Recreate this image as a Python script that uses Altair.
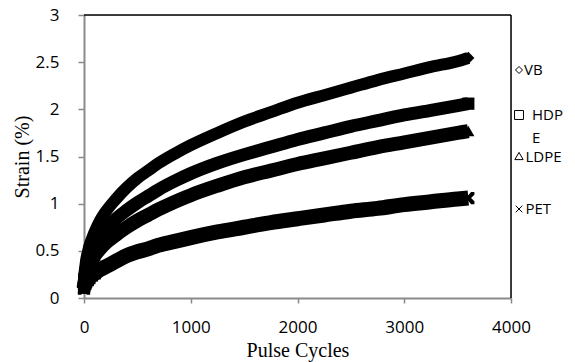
import altair as alt
import pandas as pd

# ---- data ----
cycles = [0, 5, 10, 20, 35, 50, 75, 100, 150, 200, 300, 400, 500, 600, 700, 850,
          1000, 1250, 1500, 1750, 2000, 2250, 2500, 2750, 3000, 3250, 3500, 3600]
vb = [0.12, 0.25, 0.31, 0.40, 0.48, 0.55, 0.63, 0.70, 0.82, 0.91, 1.05, 1.17, 1.27, 1.35,
      1.43, 1.53, 1.62, 1.75, 1.87, 1.97, 2.07, 2.15, 2.23, 2.31, 2.38, 2.45, 2.51, 2.545]
hdpe = [0.11, 0.20, 0.25, 0.32, 0.39, 0.44, 0.51, 0.56, 0.65, 0.72, 0.84, 0.93, 1.01, 1.08,
        1.15, 1.24, 1.32, 1.43, 1.52, 1.60, 1.68, 1.75, 1.82, 1.88, 1.94, 1.99, 2.04, 2.06]
ldpe = [0.10, 0.16, 0.20, 0.26, 0.31, 0.35, 0.40, 0.45, 0.52, 0.58, 0.67, 0.75, 0.82, 0.88,
        0.94, 1.02, 1.09, 1.19, 1.28, 1.35, 1.42, 1.48, 1.54, 1.60, 1.65, 1.70, 1.75, 1.77]
pet = [0.10, 0.13, 0.15, 0.17, 0.19, 0.21, 0.24, 0.26, 0.30, 0.33, 0.39, 0.45, 0.49, 0.52,
       0.56, 0.60, 0.64, 0.70, 0.75, 0.80, 0.84, 0.88, 0.92, 0.95, 0.99, 1.02, 1.05, 1.06]
series_names = ["VB", "HDPE", "LDPE", "PET"]
x_ticks = [0, 1000, 2000, 3000, 4000]
y_ticks = [0, 0.5, 1, 1.5, 2, 2.5, 3]

rows = []
for name, vals in zip(series_names, [vb, hdpe, ldpe, pet]):
    for n, v in zip(cycles, vals):
        rows.append({"series": name, "cycles": n, "strain": v})
df = pd.DataFrame(rows)

X_PATH = ("M-1,-1L-0.45,-1L0,-0.45L0.45,-1L1,-1L1,-0.55L0.45,0L1,0.55L1,1L0.45,1"
          "L0,0.45L-0.45,1L-1,1L-1,0.55L-0.45,0L-1,-0.55Z")
shape_scale = alt.Scale(domain=series_names,
                        range=["diamond", "square", "triangle-up", X_PATH])

W, H = 427, 283
AX = "#8a8a8a"
TICK_FONT = "Open Sans"

x_enc = alt.X("cycles:Q", scale=alt.Scale(domain=[0, 4000], nice=False),
              axis=alt.Axis(values=x_ticks, format="d", title="Pulse Cycles", grid=False,
                            domainColor=AX, domainWidth=2, tickColor=AX, tickWidth=1.5,
                            tickSize=5, labelFont=TICK_FONT, labelFontSize=17,
                            labelColor="black", labelBaseline="middle", labelPadding=24,
                            labelFlush=False,
                            titleFont="Liberation Serif", titleFontSize=20,
                            titleFontWeight="normal", titleColor="black",
                            titleBaseline="alphabetic", titleX=W / 2, titleY=58))
y_enc = alt.Y("strain:Q", scale=alt.Scale(domain=[0, 3], nice=False),
              axis=alt.Axis(values=y_ticks, format="~g", title="Strain (%)", grid=False,
                            domainColor=AX, domainWidth=2, tickColor=AX, tickWidth=1.5,
                            tickSize=6, labelFont=TICK_FONT, labelFontSize=17,
                            labelColor="black", labelPadding=19, labelFlush=False,
                            titleFont="Liberation Serif", titleFontSize=20,
                            titleFontWeight="normal", titleColor="black",
                            titleBaseline="alphabetic", titleAngle=270,
                            titleX=-56, titleY=H / 2))

base = alt.Chart(df)
lines = base.mark_line(color="black", interpolate="monotone").encode(
    x=x_enc, y=y_enc, detail="series:N",
    strokeWidth=alt.StrokeWidth("series:N", scale=alt.Scale(domain=series_names,
                                range=[12, 15, 12, 12]), legend=None),
)
# markers: dense start of the record and the final marker of each series
points = base.transform_filter(
    (alt.datum.cycles <= 100) | (alt.datum.cycles >= 3600)
).mark_point(filled=True, color="black", opacity=1, size=150).encode(
    x="cycles:Q", y="strain:Q",
    shape=alt.Shape("series:N", scale=shape_scale, legend=None),
)

one = pd.DataFrame({"a": [0]})
top_rule = alt.Chart(one).mark_rule(color="black", strokeWidth=1.5).encode(
    x=alt.value(0), x2=alt.value(W), y=alt.value(0))
right_rule = alt.Chart(one).mark_rule(color="black", strokeWidth=1.5).encode(
    x=alt.value(W), y=alt.value(0), y2=alt.value(H))

# manual legend (outside the plot, right side)
leg_layers = []
leg_sym = [("diamond", 49, 55), ("square", 80, 100), ("triangle-up", 70, 141),
           ("M-1,-1L1,1M-1,1L1,-1", 45, 194)]
for shp, sz, yy in leg_sym:
    leg_layers.append(alt.Chart(one).mark_point(shape=shp, size=sz, color="black",
                                                filled=False, strokeWidth=1,
                                                opacity=1)
                      .encode(x=alt.value(435), y=alt.value(yy)))
leg_text = [("VB", 440, 55), ("HDP", 448, 100), ("E", 448, 123),
            ("LDPE", 441.5, 142), ("PET", 441.5, 194)]
for txt, xx, yy in leg_text:
    leg_layers.append(alt.Chart(one).mark_text(text=txt, align="left", baseline="middle",
                                               font=TICK_FONT, fontSize=15, color="black")
                      .encode(x=alt.value(xx), y=alt.value(yy)))

chart = alt.layer(lines, points, top_rule, right_rule, *leg_layers).properties(
    width=W, height=H,
    autosize=alt.AutoSizeParams(type="none"),
    padding={"left": 84, "top": 15, "right": 64, "bottom": 64},
).configure_view(stroke=None).configure(background="white")

chart.save("out.html", embed_options={"renderer": "svg", "actions": False})
